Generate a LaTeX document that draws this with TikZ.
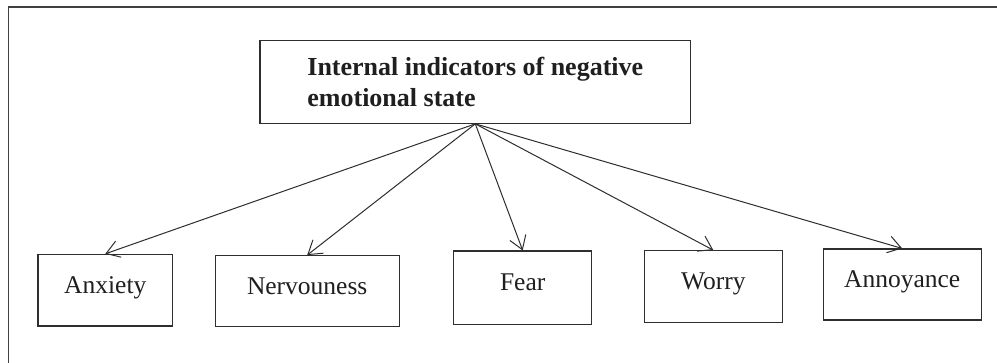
\documentclass[tikz,border=0pt]{standalone}
\usepackage{fontspec}
\setmainfont{Liberation Serif}
\usetikzlibrary{arrows.meta}
\definecolor{ink}{HTML}{2E2E2E}
\tikzset{
  leaf/.style={draw=ink, line width=1.1pt, rectangle, inner sep=0pt, text=black!88,
    font=\fontsize{25.5}{30}\selectfont, text height=0.8em, text depth=0.2em},
  head/.style={draw=ink, line width=1.1pt, rectangle, inner sep=0pt, text=black!88,
    font=\fontsize{26}{31}\selectfont\bfseries, align=left},
  link/.style={draw=ink, line width=1pt, -{Straight Barb[length=13pt,width=17pt,line width=1pt]}},
  frame/.style={draw=black!75, line width=1.2pt}
}
\begin{document}
\begin{tikzpicture}[x=1pt,y=-1pt]
\useasboundingbox (0,0) rectangle (997,363);
\fill[white] (0,0) rectangle (997,363);
\draw[frame] (8.7,363) -- (8.7,7) -- (997,7);
\node[head, minimum width=430.7pt, minimum height=83pt] (top) at (475.3,81.8) {Internal indicators of negative\\emotional state};
\node[leaf, minimum width=134.7pt, minimum height=71.7pt] (anx) at (105.3,290.2) {Anxiety};
\node[leaf, minimum width=184.3pt, minimum height=71.3pt] (ner) at (307.2,291.3) {Nervouness};
\node[leaf, minimum width=138pt, minimum height=73.3pt] (fear) at (522.7,287.7) {Fear};
\node[leaf, minimum width=138pt, minimum height=71.6pt] (wor) at (713.3,286.5) {Worry};
\node[leaf, minimum width=158.3pt, minimum height=71pt] (ann) at (902.2,284.5) {Annoyance};
\foreach \t in {anx,ner,fear,wor,ann}
  \draw[link] (top.south) -- (\t.north);
\end{tikzpicture}
\end{document}
